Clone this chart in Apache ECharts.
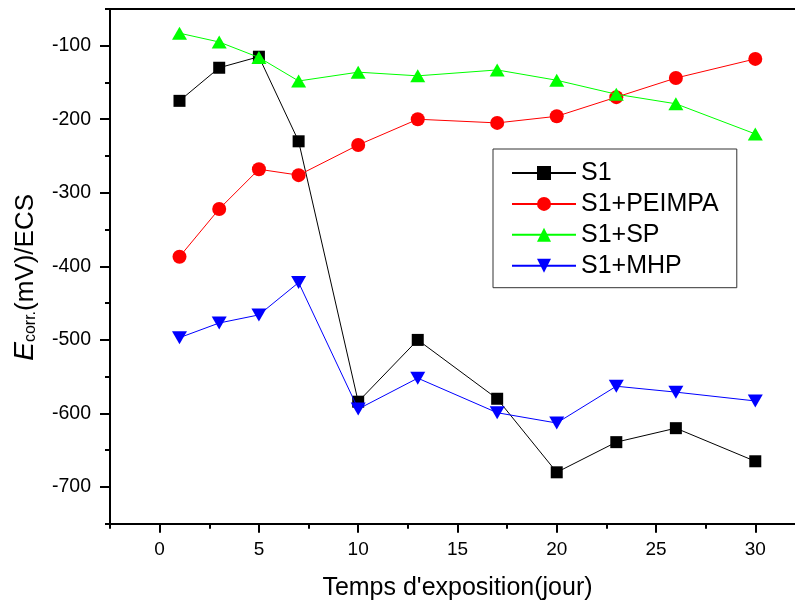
<!DOCTYPE html>
<html><head><meta charset="utf-8">
<script src="https://cdn.jsdelivr.net/npm/echarts@6/dist/echarts.min.js"></script>
<style>html,body{margin:0;padding:0;background:#fff}#c{width:795px;height:602px}</style>
</head><body><div id="c"></div>
<script>
// ---- data ----
const days   = [1, 3, 5, 7, 10, 13, 17, 20, 23, 26, 30];
const s1     = [-175, -130, -115, -230, -584, -500, -580, -680, -639, -620, -665];
const peimpa = [-387, -322, -268, -276, -235, -200, -205, -196, -170, -144, -118];
const sp     = [-83, -95, -116, -148, -136, -141, -133, -147, -166, -179, -220];
const mhp    = [-497, -477, -466, -422, -594, -552, -599, -613, -563, -571, -583];
const seriesNames = ['S1', 'S1+PEIMPA', 'S1+SP', 'S1+MHP'];
const xTickLabels = ['0', '5', '10', '15', '20', '25', '30'];
const yTickLabels = ['-700', '-600', '-500', '-400', '-300', '-200', '-100'];

// ---- style ----
const FONT = "'Liberation Sans', Arial, sans-serif";
const colors = ['#000000', '#ff0000', '#00ff00', '#0000ff'];
const symbols = ['rect', 'circle', 'triangle', 'triangle'];
const symbolSizes = [12, 14, [15, 13], [15, 13]];
const symbolRotates = [0, 0, 0, 180];
const allSeries = [s1, peimpa, sp, mhp];

const W = 795, H = 602;
const left = 110, plotTop = 8.9, plotBottomPx = 523.8;
const xMin = -2.5, xMax = 32.5, yMin = -750, yMax = -50;
const pxPerX = 19.855;
const rightOff = W - (left + (xMax - xMin) * pxPerX);
const pxPerY = (plotBottomPx - plotTop) / (yMax - yMin);
const yPx = v => plotBottomPx - (v - yMin) * pxPerY;

const chart = echarts.init(document.getElementById('c'), null, {renderer: 'canvas'});

const axisLineStyle = {color: '#000', width: 2};
const noSplit = {show: false};

const option = {
  backgroundColor: '#fff',
  animation: false,
  grid: [
    {left: left, right: rightOff, top: plotTop, bottom: H - plotBottomPx, outerBoundsMode: 'none'},
    {left: left + (0 - xMin) * pxPerX, right: rightOff, top: plotTop, bottom: H - plotBottomPx, outerBoundsMode: 'none'},
    {left: left, right: rightOff, top: yPx(-100), bottom: H - yPx(-700), outerBoundsMode: 'none'}
  ],
  xAxis: [
    { // main x axis with all (minor) ticks
      type: 'value', gridIndex: 0, min: xMin, max: xMax, interval: 2.5, position: 'bottom',
      axisLine: {show: true, onZero: false, lineStyle: axisLineStyle},
      axisTick: {show: true, inside: false, length: 5, lineStyle: {color: '#000', width: 2}},
      axisLabel: {show: false}, splitLine: noSplit,
      name: 'Temps d\'exposition(jour)', nameLocation: 'middle', nameGap: 52,
      nameTextStyle: {fontFamily: FONT, fontSize: 25, color: '#000'}
    },
    { // major ticks + labels
      type: 'value', gridIndex: 1, min: 0, max: xMax, interval: 5, position: 'bottom',
      axisLine: {show: false, onZero: false},
      axisTick: {show: true, inside: false, length: 9, lineStyle: {color: '#000', width: 2}},
      axisLabel: {show: true, margin: 16, fontFamily: FONT, fontSize: 19, color: '#000',
        formatter: v => { const i = xTickLabels.indexOf(String(v)); return i >= 0 ? xTickLabels[i] : ''; }},
      splitLine: noSplit
    },
    {type: 'value', gridIndex: 2, min: xMin, max: xMax, show: false, splitLine: noSplit},
    { // top frame line
      type: 'value', gridIndex: 0, min: xMin, max: xMax, position: 'top',
      axisLine: {show: true, onZero: false, lineStyle: axisLineStyle},
      axisTick: {show: false}, axisLabel: {show: false}, splitLine: noSplit
    }
  ],
  yAxis: [
    { // main y axis, minor ticks
      type: 'value', gridIndex: 0, min: yMin, max: yMax, interval: 50, position: 'left',
      axisLine: {show: true, onZero: false, lineStyle: axisLineStyle},
      axisTick: {show: true, inside: false, length: 5, lineStyle: {color: '#000', width: 2}},
      axisLabel: {show: false}, splitLine: noSplit
    },
    {type: 'value', gridIndex: 1, min: yMin, max: yMax, show: false, splitLine: noSplit},
    { // major ticks + labels
      type: 'value', gridIndex: 2, min: -700, max: -100, interval: 100, position: 'left',
      axisLine: {show: false, onZero: false},
      axisTick: {show: true, inside: false, length: 10, lineStyle: {color: '#000', width: 2}},
      axisLabel: {show: true, margin: 19, fontFamily: FONT, fontSize: 19.5, color: '#000',
        formatter: v => { const i = yTickLabels.indexOf(String(v)); return i >= 0 ? yTickLabels[i] : ''; }},
      splitLine: noSplit,
      name: '{e|E}{sub|corr.}{t|(mV)/ECS}', nameLocation: 'middle', nameRotate: 90, nameGap: 71,
      nameTextStyle: {
        fontFamily: FONT, color: '#000', padding: [0, 22, 0, 0],
        rich: {
          e: {fontFamily: FONT, fontSize: 28, fontStyle: 'italic', lineHeight: 30, verticalAlign: 'bottom', color: '#000'},
          sub: {fontFamily: FONT, fontSize: 16, lineHeight: 12, verticalAlign: 'bottom', color: '#000'},
          t: {fontFamily: FONT, fontSize: 26, lineHeight: 30, verticalAlign: 'bottom', color: '#000'}
        }
      }
    }
  ],
  legend: {
    show: true, orient: 'vertical', left: 493, top: 149,
    padding: [11.5, 18, 9.5, 18], itemWidth: 64, itemHeight: 17.5, itemGap: 5.9,
    borderColor: '#333', borderWidth: 1, borderRadius: 0, backgroundColor: '#fff',
    symbolRotate: 'inherit',
    textStyle: {fontFamily: FONT, fontSize: 25, color: '#000'},
    data: seriesNames
  },
  series: seriesNames.map((n, i) => ({
    name: n, type: 'line', xAxisIndex: 0, yAxisIndex: 0,
    data: days.map((d, k) => [d, allSeries[i][k]]),
    symbol: symbols[i], symbolSize: symbolSizes[i], symbolRotate: symbolRotates[i],
    showAllSymbol: true,
    lineStyle: {color: colors[i], width: 1},
    itemStyle: {color: colors[i], borderWidth: 0},
    emphasis: {disabled: true},
    z: 2 + i
  }))
};
chart.setOption(option);
</script>
</body></html>
